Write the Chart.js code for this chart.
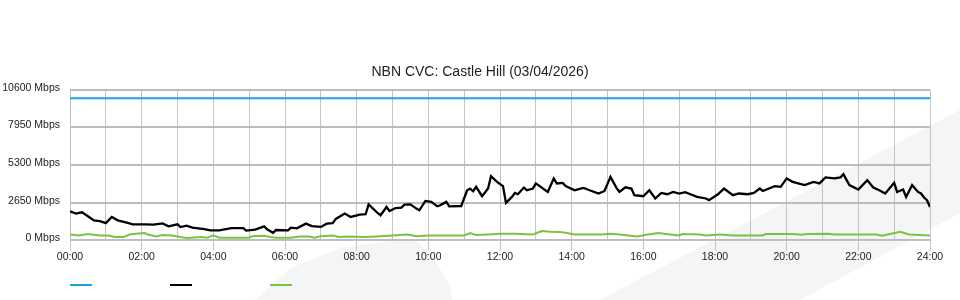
<!DOCTYPE html>
<html>
<head>
<meta charset="utf-8">
<script src="https://cdn.jsdelivr.net/npm/chart.js@4/dist/chart.umd.min.js"></script>
<style>
  html, body { margin: 0; padding: 0; background: #fff; }
  #wrap { position: relative; width: 960px; height: 300px; overflow: hidden; }
  .mark { position: absolute; left: 0; top: 0; width: 960px; height: 300px; background: #f4f5f7; }
  #mark1 { clip-path: polygon(600px 300px, 960px 110px, 960px 213px, 800px 300px); }
  #mark2 { clip-path: polygon(255px 300px, 290px 268px, 340px 248px, 380px 242px, 415px 240px, 432px 256px, 450px 285px, 452px 300px); }
  canvas { position: absolute; left: 0; top: 0; }
  #legend { position: absolute; left: 0; top: 284px; width: 960px; height: 4px; }
  #legend span { position: absolute; top: 0; width: 22px; height: 2px; }
</style>
</head>
<body>
<div id="wrap">
  <div class="mark" id="mark1"></div>
  <div class="mark" id="mark2"></div>
  <canvas id="chart" width="960" height="300"></canvas>
  <div id="legend"></div>
</div>
<script>
// minutes since midnight, Mbps
const capTimes = [0, 1440];
const capMbps = [10000, 10000];

const dlTimes = [0, 10, 20, 30, 40, 50, 60, 70, 80, 95, 105, 125, 140, 155, 165, 180, 185, 195, 205, 225,
  235, 250, 270, 290, 295, 310, 325, 330, 340, 345, 365, 370, 380, 395, 405, 420, 430, 440, 445, 460,
  470, 485, 495, 500, 515, 520, 530, 535, 545, 555, 560, 570, 580, 585, 595, 605, 615, 620, 630, 635,
  655, 665, 670, 675, 680, 690, 700, 705, 715, 725, 730, 740, 745, 750, 760, 765, 775, 780, 800, 810,
  815, 825, 830, 845, 855, 860, 870, 885, 895, 905, 915, 920, 930, 940, 945, 960, 970, 980, 990, 1000,
  1010, 1020, 1030, 1040, 1050, 1065, 1070, 1085, 1095, 1110, 1120, 1135, 1145, 1155, 1160, 1180, 1190, 1200, 1210, 1230,
  1245, 1255, 1265, 1280, 1290, 1295, 1305, 1320, 1335, 1345, 1355, 1365, 1380, 1385, 1395, 1400, 1410, 1420, 1425, 1430,
  1435, 1440];
const dlMbps = [2050, 1890, 1980, 1700, 1410, 1360, 1220, 1650, 1410, 1250, 1130, 1130, 1110, 1200, 990, 1130, 940, 1040, 900, 800,
  710, 710, 870, 870, 690, 760, 990, 780, 540, 730, 710, 900, 850, 1180, 1010, 950, 1180, 1220, 1510, 1890,
  1650, 1820, 1840, 2540, 1930, 1770, 2350, 2070, 2280, 2310, 2520, 2540, 2240, 2120, 2780, 2710, 2400, 2470, 2710, 2400,
  2420, 3530, 3650, 3460, 3770, 3110, 3650, 4520, 4120, 3820, 2640, 3060, 3340, 3250, 3720, 3530, 3650, 4010, 3410, 4360,
  4010, 4050, 3820, 3530, 3650, 3700, 3530, 3300, 3480, 4470, 3700, 3410, 3740, 3650, 3180, 3110, 3530, 2950, 3340, 3250,
  3410, 3300, 3390, 3230, 3060, 2950, 2830, 3250, 3650, 3180, 3300, 3250, 3340, 3650, 3480, 3820, 3770, 4360, 4120, 3890,
  4120, 4010, 4430, 4360, 4430, 4660, 3890, 3580, 4240, 3720, 3530, 3300, 4050, 3410, 3580, 3060, 3890, 3410, 3300, 3020,
  2830, 2350];

const ulTimes = [0, 15, 30, 50, 65, 75, 90, 100, 110, 125, 130, 145, 155, 170, 185, 195, 220, 230, 240, 250,
  275, 300, 305, 325, 335, 345, 370, 385, 400, 410, 420, 440, 450, 465, 495, 520, 565, 580, 600, 620,
  660, 670, 680, 700, 720, 745, 775, 790, 805, 820, 830, 845, 890, 905, 920, 950, 965, 985, 1005, 1020,
  1025, 1055, 1065, 1090, 1110, 1145, 1160, 1165, 1210, 1225, 1235, 1270, 1280, 1310, 1350, 1360, 1375, 1390, 1405, 1440];
const ulMbps = [420, 350, 450, 350, 350, 240, 240, 420, 470, 520, 420, 280, 380, 350, 240, 170, 240, 190, 350, 190,
  190, 190, 300, 330, 240, 190, 190, 280, 280, 190, 300, 350, 240, 280, 240, 300, 420, 300, 350, 350,
  350, 520, 380, 420, 470, 470, 420, 660, 610, 590, 540, 420, 420, 470, 420, 280, 400, 520, 420, 350,
  450, 420, 350, 420, 350, 350, 350, 450, 450, 400, 450, 470, 420, 420, 420, 330, 470, 610, 420, 350];

const seriesNames = ["Capacity", "Download", "Upload"];
const seriesColors = ["#1ca0e3", "#000000", "#7cc242"];
const seriesWidths = [2, 2.3, 2];

const yMax = 10600;
const yStep = 2650;

function pts(times, vals) {
  return times.map((t, i) => ({ x: t, y: vals[i] }));
}

function hhmm(m) {
  const h = Math.round(m / 60);
  return (h < 10 ? "0" : "") + h + ":00";
}

const FONT = "'Liberation Sans', Arial, sans-serif";

const data = [pts(capTimes, capMbps), pts(dlTimes, dlMbps), pts(ulTimes, ulMbps)];

new Chart(document.getElementById("chart"), {
  type: "line",
  data: {
    datasets: seriesNames.map((name, i) => ({
      label: name,
      data: data[i],
      borderColor: seriesColors[i],
      backgroundColor: "transparent",
      borderWidth: seriesWidths[i],
      pointRadius: 0,
      tension: 0,
    }))
  },
  options: {
    responsive: false,
    animation: false,
    layout: { padding: { top: 64, right: 0, bottom: 37, left: 0 } },
    plugins: {
      legend: { display: false },
      tooltip: { enabled: false },
      title: {
        display: true,
        text: "NBN CVC: Castle Hill (03/04/2026)",
        color: "#222",
        font: { family: FONT, size: 14, weight: "normal" },
        padding: { top: 0, bottom: 9 }
      }
    },
    scales: {
      x: {
        type: "linear",
        min: 0,
        max: 1440,
        border: { color: "#c0c0c0" },
        grid: {
          color: "#c4c4c4",
          lineWidth: 1,
          tickLength: 10,
          tickColor: ctx => (ctx.tick && ctx.tick.value % 120 === 0) ? "#c4c4c4" : "rgba(0,0,0,0)"
        },
        ticks: {
          stepSize: 60,
          autoSkip: false,
          maxRotation: 0,
          padding: 0,
          color: "#222",
          font: { family: FONT, size: 10.5 },
          callback: v => v % 120 === 0 ? hhmm(v) : ""
        }
      },
      y: {
        min: 0,
        max: yMax,
        border: { color: "#c0c0c0" },
        grid: { color: "#bcbcbc", lineWidth: 2, drawTicks: false },
        afterFit: s => { s.width = 70; },
        ticks: {
          stepSize: yStep,
          padding: 10,
          labelOffset: -2,
          color: "#222",
          font: { family: FONT, size: 10.5 },
          callback: v => v + " Mbps"
        }
      },
      // empty right-hand gutter so the title centres on the full width
      gutter: {
        position: "right",
        min: 0,
        max: yMax,
        grid: { display: false, drawTicks: false },
        border: { display: false },
        ticks: { display: false },
        afterFit: s => { s.width = 30; }
      }
    }
  }
});

// legend: short colour lines only, no text
const legend = document.getElementById("legend");
seriesColors.forEach((c, i) => {
  const s = document.createElement("span");
  s.style.left = (70 + i * 100) + "px";
  s.style.background = c;
  legend.appendChild(s);
});
</script>
</body>
</html>
